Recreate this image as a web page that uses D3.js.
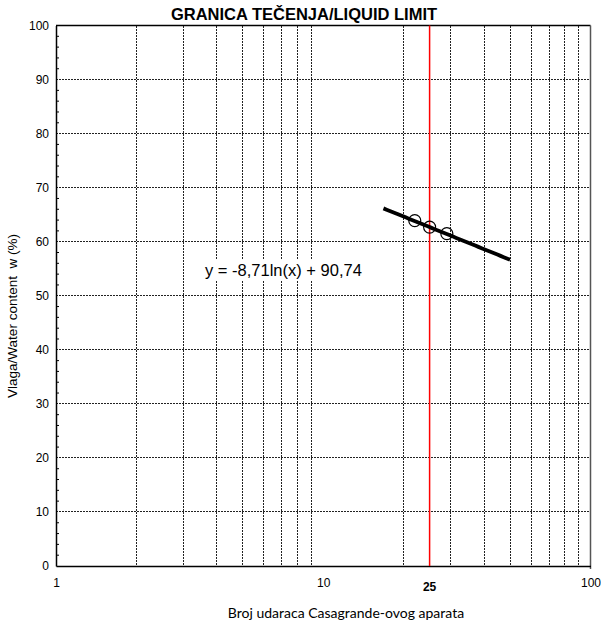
<!DOCTYPE html>
<html>
<head>
<meta charset="utf-8">
<script src="https://cdn.jsdelivr.net/npm/d3@7/dist/d3.min.js"></script>
<style>
  body { margin: 0; background: #fff; }
  svg { display: block; }
</style>
</head>
<body>
<svg id="chart" width="601" height="624"></svg>
<script>
// Liquid limit test: blows vs. water content
const blows = [22, 25, 29];
const waterContent = [63.9, 62.7, 61.5];
const trendCoef = { a: -8.71, b: 90.74 };   // w = a*ln(N) + b
const trendRange = [16.8, 50];
const xMajorTicks = [1, 10, 100];
const xGridValues = [2, 3, 4, 5, 6, 7, 8, 9, 20, 30, 40, 50, 60, 70, 80, 90];
const yMajorTicks = [0, 10, 20, 30, 40, 50, 60, 70, 80, 90, 100];
const yMinorTicks = d3.range(0, 101, 2).filter(v => v % 10 !== 0);
const referenceBlows = 25;

const svg = d3.select("#chart");
const m = { left: 56, right: 590.5, top: 25.5, bottom: 566 };

const x = d3.scaleLog().domain([1, 100]).range([m.left, m.right]);
const y = d3.scaleLinear().domain([0, 100]).range([m.bottom, m.top]);

const font = "'Liberation Sans', Arial, sans-serif";

// vertical grid
svg.append("g").selectAll("line").data(xGridValues).join("line")
  .attr("x1", d => x(d)).attr("x2", d => x(d))
  .attr("y1", m.top).attr("y2", m.bottom)
  .attr("stroke", "#222").attr("stroke-width", 1)
  .attr("stroke-dasharray", "2,1").attr("shape-rendering", "crispEdges");

// horizontal grid
svg.append("g").selectAll("line").data(yMajorTicks.filter(v => v > 0 && v < 100)).join("line")
  .attr("x1", m.left).attr("x2", m.right)
  .attr("y1", d => y(d)).attr("y2", d => y(d))
  .attr("stroke", "#222").attr("stroke-width", 1)
  .attr("stroke-dasharray", "2,1").attr("shape-rendering", "crispEdges");

// plot frame
svg.append("line").attr("x1", m.left).attr("x2", m.right).attr("y1", m.top).attr("y2", m.top)
  .attr("stroke", "#000").attr("stroke-width", 1.5);
svg.append("line").attr("x1", m.right).attr("x2", m.right).attr("y1", m.top).attr("y2", m.bottom + 3)
  .attr("stroke", "#555").attr("stroke-width", 1.5);

// y axis
const yAxis = d3.axisLeft(y).tickValues(yMajorTicks).tickSize(0).tickPadding(7).tickFormat(d3.format("d"));
const gy = svg.append("g").attr("transform", `translate(${m.left},0)`).call(yAxis);
gy.select(".domain").attr("stroke", "#000").attr("stroke-width", 1.5);
gy.selectAll("text").attr("font-family", font).attr("font-size", 12).attr("fill", "#000");
svg.append("g").selectAll("line").data(yMinorTicks).join("line")
  .attr("x1", m.left).attr("x2", m.left + 3)
  .attr("y1", d => y(d)).attr("y2", d => y(d))
  .attr("stroke", "#000").attr("stroke-width", 1);

// x axis
const xAxis = d3.axisBottom(x).tickValues(xMajorTicks).tickSize(0).tickPadding(12).tickFormat(d3.format("d"));
const gx = svg.append("g").attr("transform", `translate(0,${m.bottom})`).call(xAxis);
gx.select(".domain").attr("stroke", "#000").attr("stroke-width", 1.5);
gx.selectAll("text").attr("font-family", font).attr("font-size", 12).attr("fill", "#000");

// reference line at 25 blows
svg.append("line")
  .attr("x1", x(referenceBlows)).attr("x2", x(referenceBlows))
  .attr("y1", m.top).attr("y2", m.bottom)
  .attr("stroke", "#ff0000").attr("stroke-width", 1.5);
svg.append("text")
  .attr("x", x(referenceBlows)).attr("y", 591)
  .attr("text-anchor", "middle")
  .attr("font-family", font).attr("font-size", 12).attr("font-weight", "bold")
  .text(referenceBlows);

// logarithmic trendline
const trendX = d3.range(0, 41).map(i => trendRange[0] * Math.pow(trendRange[1] / trendRange[0], i / 40));
const line = d3.line().x(d => x(d)).y(d => y(trendCoef.a * Math.log(d) + trendCoef.b));
svg.append("path").datum(trendX)
  .attr("d", line).attr("fill", "none")
  .attr("stroke", "#000").attr("stroke-width", 3.8);

// measured points
svg.append("g").selectAll("circle").data(blows.map((b, i) => [b, waterContent[i]])).join("circle")
  .attr("cx", d => x(d[0])).attr("cy", d => y(d[1]))
  .attr("r", 6).attr("fill", "none")
  .attr("stroke", "#000").attr("stroke-width", 1.2);

// trendline equation on a white label box
const eqGroup = svg.append("g");
const eqBox = eqGroup.append("rect").attr("fill", "#fff");
const eq = eqGroup.append("text")
  .attr("x", 205).attr("y", 276)
  .attr("font-family", font).attr("font-size", 16.5)
  .text("y = -8,71ln(x) + 90,74");
const bb = eq.node().getBBox();
eqBox.attr("x", bb.x - 3).attr("y", bb.y - 1)
  .attr("width", bb.width + 6).attr("height", bb.height + 2);

// title
svg.append("text")
  .attr("x", 304).attr("y", 20)
  .attr("text-anchor", "middle")
  .attr("font-family", font).attr("font-size", 16.5).attr("font-weight", "bold")
  .text("GRANICA TEČENJA/LIQUID LIMIT");

// axis titles
svg.append("text")
  .attr("transform", "translate(17,316) rotate(-90)")
  .attr("text-anchor", "middle")
  .attr("font-family", font).attr("font-size", 13.5)
  .attr("xml:space", "preserve")
  .text("Vlaga/Water content  w (%)");

svg.append("text")
  .attr("x", 346).attr("y", 618)
  .attr("text-anchor", "middle")
  .attr("font-family", "Lato, 'Open Sans', sans-serif").attr("font-size", 14)
  .text("Broj udaraca Casagrande-ovog aparata");
</script>
</body>
</html>
